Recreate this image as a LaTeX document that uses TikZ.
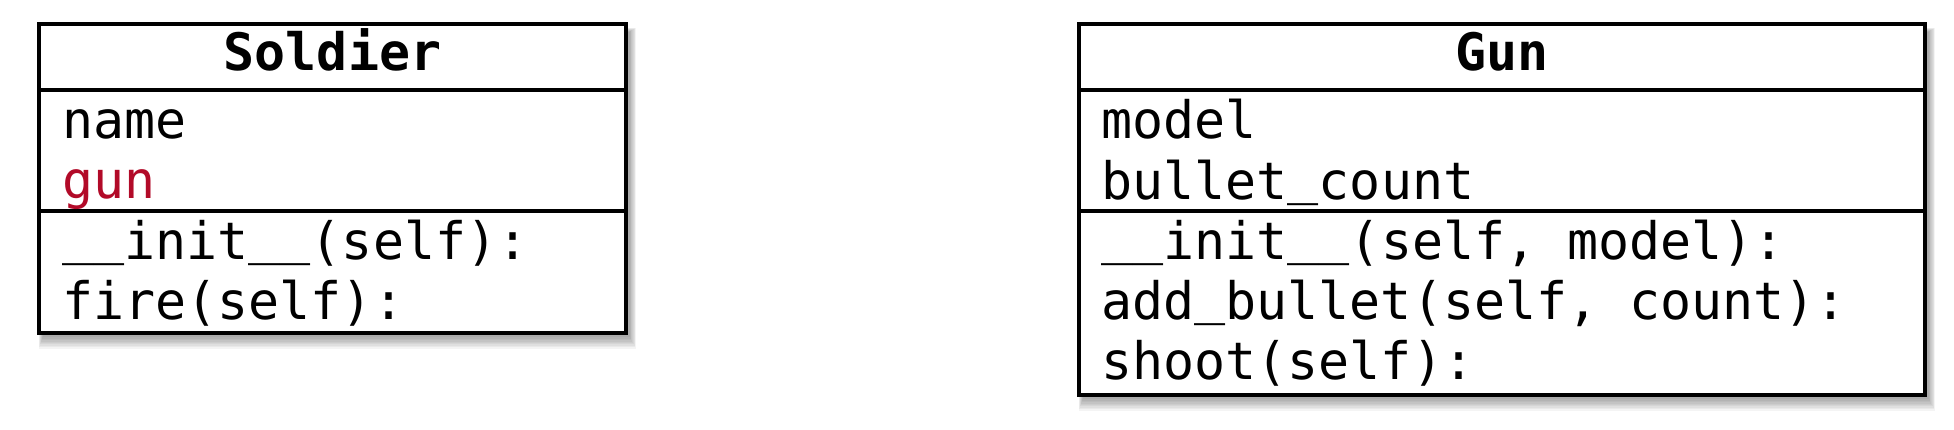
\documentclass[tikz,border=0pt]{standalone}
\usepackage{fontspec}
\setmonofont{DejaVu Sans Mono}
\definecolor{attrred}{RGB}{178,10,40}
\newcommand{\ubar}{\raisebox{2.6pt}{\_}}
\begin{document}
\begin{tikzpicture}[x=0.5pt,y=-0.5pt,
  classbox/.style={draw=black, line width=2.2pt, fill=white, inner sep=0pt, outer sep=0pt},
  divider/.style={draw=black, line width=2pt},
  member/.style={anchor=base west, inner sep=0pt, font=\ttfamily\fontsize{25.8pt}{30pt}\selectfont},
  header/.style={anchor=base, inner sep=0pt, font=\ttfamily\bfseries\fontsize{25.8pt}{30pt}\selectfont}]
\useasboundingbox (0,0) rectangle (1954,429);
% soft shadows
\foreach \i in {1,...,9}{
  \fill[black, opacity=0.045] (39+4-\i*0.5,24+8-\i*0.5) rectangle (626+3+\i*0.8,333+3+\i*1.4);
  \fill[black, opacity=0.045] (1079+4-\i*0.5,24+8-\i*0.5) rectangle (1925+3+\i*0.8,395+3+\i*1.4);
}
% Soldier
\node[classbox, minimum width=293.5pt, minimum height=154.5pt] (soldier) at (332.5,178.5) {};
\coordinate (s1) at (0,90);
\coordinate (s2) at (0,211);
\draw[divider] (soldier.west |- s1) -- (soldier.east |- s1);
\draw[divider] (soldier.west |- s2) -- (soldier.east |- s2);
\node[header] (stitle) at (332.5,70) {Soldier};
\node[member] (sname) at (62,138) {name};
\node[member, text=attrred] (sgun) at (62,198) {gun};
\node[member] (sinit) at (62,259) {\ubar\ubar init\ubar\ubar(self):};
\node[member] (sfire) at (62,319) {fire(self):};
% Gun
\node[classbox, minimum width=423pt, minimum height=185.5pt] (gun) at (1502,209.5) {};
\draw[divider] (gun.west |- s1) -- (gun.east |- s1);
\draw[divider] (gun.west |- s2) -- (gun.east |- s2);
\node[header] (gtitle) at (1502,70) {Gun};
\node[member] (gmodel) at (1101,138) {model};
\node[member] (gcount) at (1101,199) {bullet\ubar count};
\node[member] (ginit) at (1101,259) {\ubar\ubar init\ubar\ubar(self, model):};
\node[member] (gadd) at (1101,319) {add\ubar bullet(self, count):};
\node[member] (gshoot) at (1101,379) {shoot(self):};
\end{tikzpicture}
\end{document}
